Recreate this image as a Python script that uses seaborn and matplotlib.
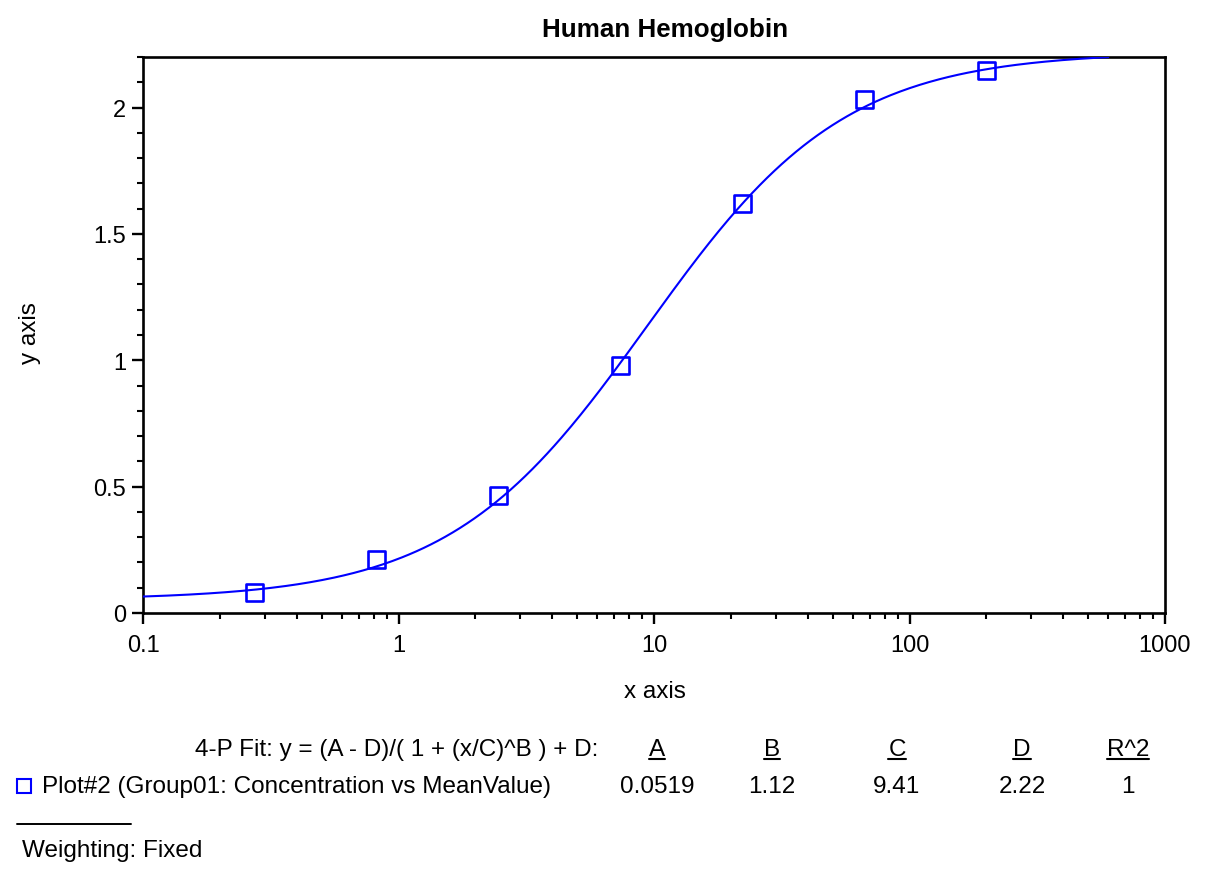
import numpy as np
import pandas as pd
import seaborn as sns
import matplotlib.pyplot as plt
from matplotlib.lines import Line2D
from matplotlib.ticker import FixedLocator, FixedFormatter, LogLocator, NullFormatter, MultipleLocator

# --- DATA ---
concentration = [0.274, 0.823, 2.47, 7.41, 22.2, 66.7, 200.0]
mean_value = [0.083, 0.21, 0.463, 0.981, 1.622, 2.03, 2.145]

# 4-P fit parameters shown under the chart
fit_names = ["A", "B", "C", "D", "R^2"]
fit_values = ["0.0519", "1.12", "9.41", "2.22", "1"]
A, B, C, D = 0.0519, 1.12, 9.41, 2.22
curve_start, curve_end = 0.1, 600.0

x_ticks = [0.1, 1, 10, 100, 1000]
x_ticklabels = ["0.1", "1", "10", "100", "1000"]
y_ticks = [0, 0.5, 1, 1.5, 2]
y_ticklabels = ["0", "0.5", "1", "1.5", "2"]

W, H = 1206, 878
BLUE = "#0000ff"
FS = 17.5

sns.set_theme(style="ticks")
plt.rcParams['font.family'] = ['Liberation Sans', 'DejaVu Sans']

fig = plt.figure(figsize=(W / 100, H / 100), dpi=100)
fig.patch.set_facecolor("white")
ax = fig.add_axes([143 / W, 1 - 614 / H, (1165 - 143) / W, (614 - 58) / H])
ax.set_facecolor("white")

def px(x, y):
    return x / W, 1 - y / H

# --- fitted curve from the parameters ---
xs = np.logspace(np.log10(curve_start), np.log10(curve_end), 400)
curve = pd.DataFrame({"x": xs, "y": (A - D) / (1 + (xs / C) ** B) + D})
sns.lineplot(data=curve, x="x", y="y", ax=ax, color=BLUE, linewidth=1.5,
             sort=False, estimator=None, zorder=3)

points = pd.DataFrame({"Concentration": concentration, "MeanValue": mean_value})
sns.scatterplot(data=points, x="Concentration", y="MeanValue", ax=ax, marker="s",
                s=150, facecolors="none", edgecolor=BLUE, linewidth=1.9, zorder=4)

ax.set_xscale("log")
ax.set_xlim(0.1, 1000)
ax.set_ylim(0, 2.2)

ax.xaxis.set_major_locator(FixedLocator(x_ticks))
ax.xaxis.set_major_formatter(FixedFormatter(x_ticklabels))
ax.xaxis.set_minor_locator(LogLocator(base=10, subs=np.arange(2, 10)))
ax.xaxis.set_minor_formatter(NullFormatter())
ax.yaxis.set_major_locator(FixedLocator(y_ticks))
ax.yaxis.set_major_formatter(FixedFormatter(y_ticklabels))
ax.yaxis.set_minor_locator(MultipleLocator(0.1))

for side in ["left", "right", "top", "bottom"]:
    ax.spines[side].set_visible(True)
    ax.spines[side].set_color("black")
    ax.spines[side].set_linewidth(1.9)

ax.tick_params(which="major", direction="out", length=8, width=1.7, colors="black",
               labelsize=17, labelcolor="black")
ax.tick_params(which="minor", direction="out", length=4, width=1.5, colors="black")
ax.tick_params(axis="x", which="major", pad=7)
ax.tick_params(axis="y", which="major", pad=4)
ax.grid(False)

ax.set_xlabel("x axis", fontsize=FS, color="black")
ax.set_ylabel("y axis", fontsize=FS, color="black")
ax.xaxis.label.set_va("center")
ax.yaxis.label.set_va("center")
ax.xaxis.set_label_coords((655 - 143) / 1022, (614 - 692) / 556)
ax.yaxis.set_label_coords((30 - 143) / 1022, (614 - 333) / 556)

fig.text(*px(665, 30), "Human Hemoglobin", ha="center", va="center",
         fontsize=18.7, fontweight="bold", color="black")

# --- fit table below the chart ---
fig.text(*px(598, 750), "4-P Fit: y = (A - D)/( 1 + (x/C)^B ) + D:", ha="right",
         va="center", fontsize=FS, color="black")
col_x = [657, 772, 897, 1022, 1128]
headers = []
for cx, name, val in zip(col_x, fit_names, fit_values):
    headers.append(fig.text(*px(cx, 750), name, ha="center", va="center",
                            fontsize=FS, color="black"))
    fig.text(*px(cx, 787), val, ha="center", va="center", fontsize=FS, color="black")

fig.add_artist(Line2D([px(24, 0)[0]], [px(0, 787)[1]], marker="s", markersize=10,
                      markerfacecolor="none", markeredgecolor=BLUE, markeredgewidth=1.5,
                      transform=fig.transFigure))
fig.text(*px(42, 787), "Plot#2 (Group01: Concentration vs MeanValue)", ha="left",
         va="center", fontsize=FS, color="black")
fig.add_artist(Line2D([17 / W, 131 / W], [1 - 825 / H] * 2, color="black",
                      linewidth=1.4, transform=fig.transFigure))
fig.text(*px(22, 851), "Weighting: Fixed", ha="left", va="center", fontsize=FS,
         color="black")

# underline the parameter headers
fig.canvas.draw()
inv = fig.transFigure.inverted()
for t in headers:
    bb = t.get_window_extent().transformed(inv)
    fig.add_artist(Line2D([bb.x0, bb.x1], [bb.y0 + 1.0 / H] * 2, color="black",
                          linewidth=1.5, transform=fig.transFigure))

fig.savefig("out.png", dpi=100, facecolor="white")
